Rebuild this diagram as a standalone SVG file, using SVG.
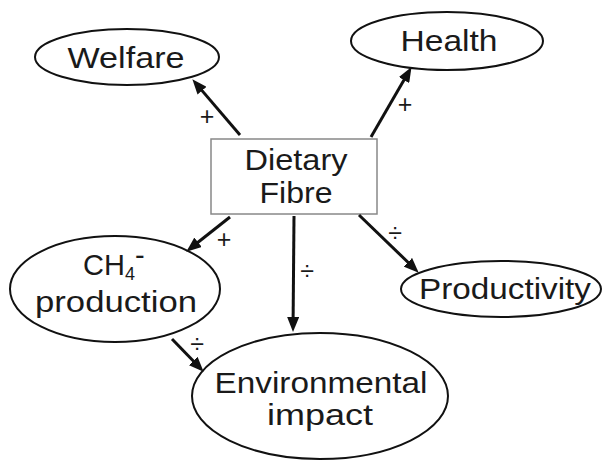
<svg xmlns="http://www.w3.org/2000/svg" width="602" height="462" viewBox="0 0 602 462">
<style>
.node ellipse{fill:#fff;stroke:#111;stroke-width:2}
.box{fill:#fff;stroke:#888;stroke-width:1.5}
text{font-family:"Liberation Sans",Arial,sans-serif;fill:#1a1a1a;text-anchor:middle}
.lbl{font-size:29px}
.big{font-size:30px}
.sign{font-size:25px}
.conn line{stroke:#111;stroke-width:3;marker-end:url(#ah)}
</style>
<defs>
<marker id="ah" markerUnits="userSpaceOnUse" viewBox="0 0 15 12" markerWidth="15" markerHeight="12" refX="4" refY="6" orient="auto">
<path d="M0,0 L15,6 L0,12 z" fill="#111"/>
</marker>
</defs>
<rect width="602" height="462" fill="#fff"/>
<g id="welfare" class="node"><ellipse cx="127" cy="57" rx="92" ry="28"/><text class="lbl" x="126" y="68" textLength="117" lengthAdjust="spacingAndGlyphs">Welfare</text></g>
<g id="health" class="node"><ellipse cx="447" cy="41" rx="96" ry="29"/><text class="lbl" x="449" y="51" textLength="97" lengthAdjust="spacingAndGlyphs">Health</text></g>
<g id="dietary-fibre"><rect class="box" x="211" y="139" width="166" height="75"/><text class="lbl" x="296" y="170" textLength="103" lengthAdjust="spacingAndGlyphs">Dietary</text><text class="lbl" x="296" y="203" textLength="73" lengthAdjust="spacingAndGlyphs">Fibre</text></g>
<g id="ch4" class="node"><ellipse cx="115" cy="289" rx="105" ry="53"/><text class="lbl" x="83" y="275" style="text-anchor:start">CH<tspan font-size="18" dy="5">4</tspan><tspan dy="-15">-</tspan></text><text class="lbl" x="116" y="312" textLength="162" lengthAdjust="spacingAndGlyphs">production</text></g>
<g id="productivity" class="node"><ellipse cx="501" cy="289" rx="100" ry="28"/><text class="lbl" x="505" y="299" textLength="172" lengthAdjust="spacingAndGlyphs">Productivity</text></g>
<g id="environmental-impact" class="node"><ellipse cx="320" cy="396" rx="128" ry="63"/><text class="big" x="321" y="393" textLength="213" lengthAdjust="spacingAndGlyphs">Environmental</text><text class="big" x="320" y="425" textLength="106" lengthAdjust="spacingAndGlyphs">impact</text></g>
<g id="connectors" class="conn">
<line x1="240" y1="135" x2="199.5" y2="87.6"/>
<line x1="371" y1="137" x2="406" y2="76.6"/>
<line x1="230" y1="217" x2="194.9" y2="244.8"/>
<line x1="294" y1="216" x2="293.1" y2="321"/>
<line x1="359" y1="215" x2="410.8" y2="265"/>
<line x1="172" y1="339" x2="196" y2="363.8"/>
</g>
<g id="signs">
<text class="sign" x="207" y="125">+</text>
<text class="sign" x="405" y="113">+</text>
<text class="sign" x="224" y="248">+</text>
<text class="sign" x="307" y="280">÷</text>
<text class="sign" x="395" y="242">÷</text>
<text class="sign" x="197" y="353">÷</text>
</g>
</svg>
